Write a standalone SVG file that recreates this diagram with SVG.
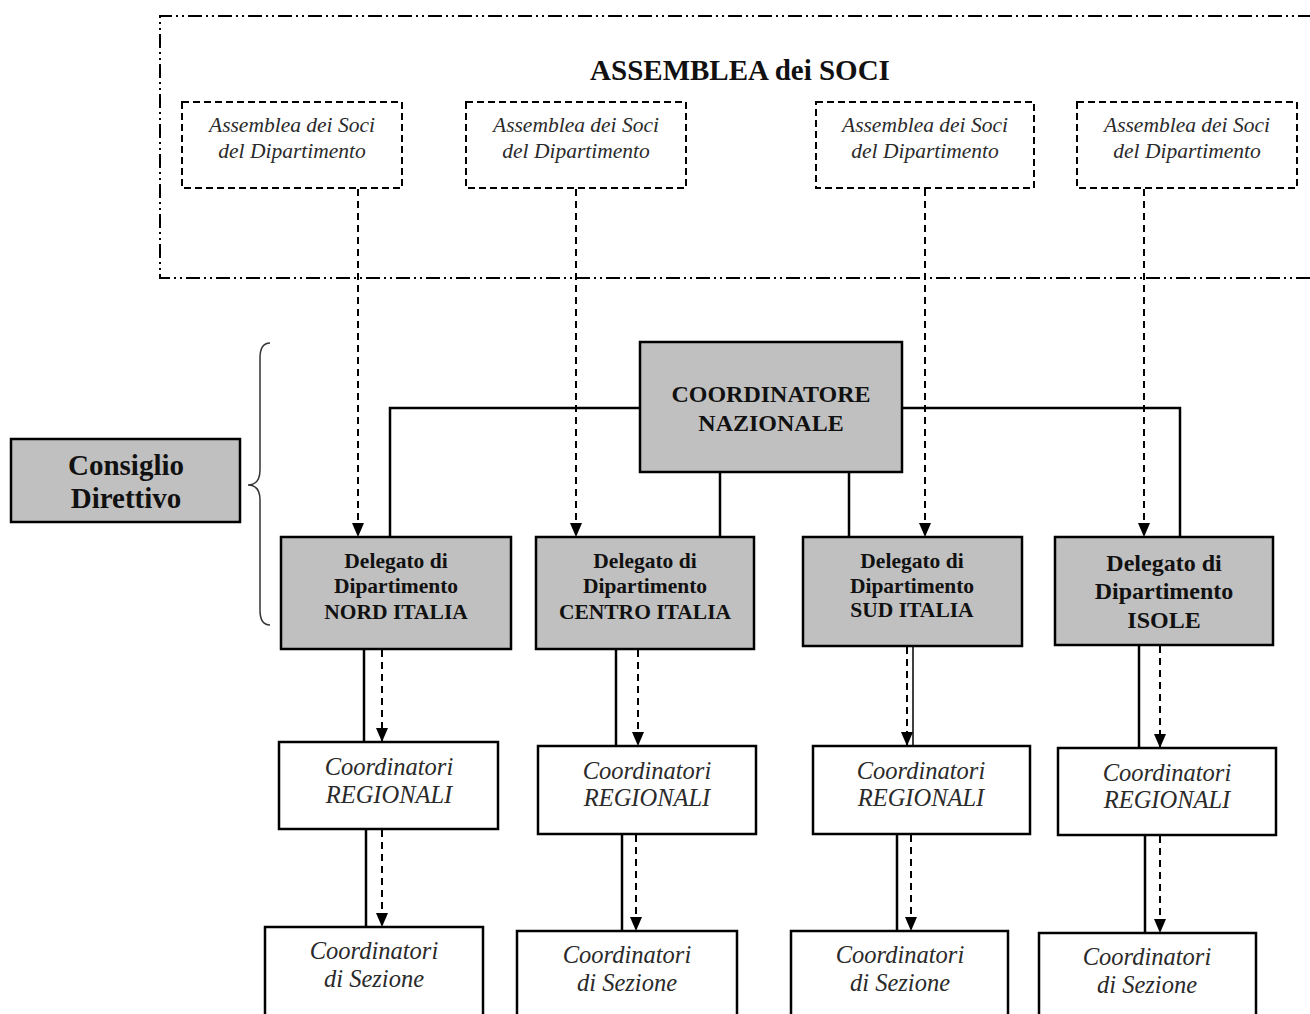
<svg xmlns="http://www.w3.org/2000/svg" width="1310" height="1014" viewBox="0 0 1310 1014">
<defs>
<marker id="ah" viewBox="0 0 14 12" refX="14" refY="6" markerWidth="14" markerHeight="12" markerUnits="userSpaceOnUse" orient="auto">
<path d="M0,0 L14,6 L0,12 Z" fill="#000"/>
</marker>
<style>
.outer{fill:none;stroke:#000;stroke-width:2;stroke-dasharray:14 4 2 4 2 4}
.dbox{fill:#fff;stroke:#000;stroke-width:2;stroke-dasharray:7 4}
.gbox{fill:#c0c0c0;stroke:#000;stroke-width:2.5}
.wbox{fill:#fff;stroke:#000;stroke-width:2.5}
.solid{fill:none;stroke:#000;stroke-width:2.5}
.dash{fill:none;stroke:#000;stroke-width:2;stroke-dasharray:7 5}
.it{font-family:"Liberation Serif","Times New Roman",serif;font-style:italic;text-anchor:middle;fill:#2a2a2a}
.bd{font-family:"Liberation Serif","Times New Roman",serif;font-weight:bold;text-anchor:middle;fill:#111}
</style>
</defs>
<rect width="1310" height="1014" fill="#fff"/>

<g id="assemblea">
<path class="outer" d="M1312,16 H160 V278 H1312"/>
<text class="bd" x="740" y="80" font-size="29">ASSEMBLEA dei SOCI</text>
</g>

<g id="ads1"><rect class="dbox" x="182" y="102" width="220" height="86"/>
<text class="it" x="292" y="132" font-size="21.5">Assemblea dei Soci</text><text class="it" x="292" y="158" font-size="21.5">del Dipartimento</text></g>
<g id="ads2"><rect class="dbox" x="466" y="102" width="220" height="86"/>
<text class="it" x="576" y="132" font-size="21.5">Assemblea dei Soci</text><text class="it" x="576" y="158" font-size="21.5">del Dipartimento</text></g>
<g id="ads3"><rect class="dbox" x="816" y="102" width="218" height="86"/>
<text class="it" x="925" y="132" font-size="21.5">Assemblea dei Soci</text><text class="it" x="925" y="158" font-size="21.5">del Dipartimento</text></g>
<g id="ads4"><rect class="dbox" x="1077" y="102" width="220" height="86"/>
<text class="it" x="1187" y="132" font-size="21.5">Assemblea dei Soci</text><text class="it" x="1187" y="158" font-size="21.5">del Dipartimento</text></g>

<g id="connectors">
<path class="dash" d="M358,189 V537" marker-end="url(#ah)"/>
<path class="dash" d="M576,189 V537" marker-end="url(#ah)"/>
<path class="dash" d="M925,189 V537" marker-end="url(#ah)"/>
<path class="dash" d="M1144,189 V537" marker-end="url(#ah)"/>
<path class="solid" d="M640,408 H390 V537"/>
<path class="solid" d="M902,408 H1180 V537"/>
<path class="solid" d="M720,472 V537"/>
<path class="solid" d="M849,472 V537"/>
<path class="solid" d="M364,649 V742"/>
<path class="dash" d="M382,650 V742" marker-end="url(#ah)"/>
<path class="solid" d="M366,829 V927"/>
<path class="dash" d="M382,830 V927" marker-end="url(#ah)"/>
<path class="solid" d="M616,649 V746"/>
<path class="dash" d="M638,650 V746" marker-end="url(#ah)"/>
<path class="solid" d="M622,834 V931"/>
<path class="dash" d="M636,835 V931" marker-end="url(#ah)"/>
<path class="solid" d="M913,646 V746" style="stroke-width:1.5"/>
<path class="dash" d="M907,647 V746" marker-end="url(#ah)"/>
<path class="solid" d="M897,834 V931"/>
<path class="dash" d="M911,835 V931" marker-end="url(#ah)"/>
<path class="solid" d="M1139,645 V748"/>
<path class="dash" d="M1160,646 V748" marker-end="url(#ah)"/>
<path class="solid" d="M1145,835 V933"/>
<path class="dash" d="M1160,836 V933" marker-end="url(#ah)"/>
<path fill="none" stroke="#333" stroke-width="1.5" d="M270,343 Q260,343 260,358 V470 Q260,485 248,485 Q260,485 260,500 V610 Q260,625 270,625"/>
</g>

<g id="coordinatore"><rect class="gbox" x="640" y="342" width="262" height="130"/>
<text class="bd" x="771" y="402" font-size="24">COORDINATORE</text><text class="bd" x="771" y="431" font-size="24">NAZIONALE</text></g>

<g id="consiglio"><rect class="gbox" x="11" y="439" width="229" height="83"/>
<text class="bd" x="126" y="475" font-size="29">Consiglio</text><text class="bd" x="126" y="508" font-size="29">Direttivo</text></g>

<g id="del-nord"><rect class="gbox" x="281" y="537" width="230" height="112"/>
<text class="bd" x="396" y="568" font-size="21.5">Delegato di</text><text class="bd" x="396" y="593" font-size="21.5">Dipartimento</text><text class="bd" x="396" y="619" font-size="21.5">NORD ITALIA</text></g>
<g id="del-centro"><rect class="gbox" x="536" y="537" width="218" height="112"/>
<text class="bd" x="645" y="568" font-size="21.5">Delegato di</text><text class="bd" x="645" y="593" font-size="21.5">Dipartimento</text><text class="bd" x="645" y="619" font-size="21.5">CENTRO ITALIA</text></g>
<g id="del-sud"><rect class="gbox" x="803" y="537" width="219" height="109"/>
<text class="bd" x="912" y="568" font-size="21.5">Delegato di</text><text class="bd" x="912" y="593" font-size="21.5">Dipartimento</text><text class="bd" x="912" y="617" font-size="21.5">SUD ITALIA</text></g>
<g id="del-isole"><rect class="gbox" x="1055" y="537" width="218" height="108"/>
<text class="bd" x="1164" y="571" font-size="24">Delegato di</text><text class="bd" x="1164" y="599" font-size="24">Dipartimento</text><text class="bd" x="1164" y="628" font-size="24">ISOLE</text></g>

<g id="reg1"><rect class="wbox" x="279" y="742" width="219" height="87"/>
<text class="it" x="389" y="775" font-size="24.5">Coordinatori</text><text class="it" x="389" y="803" font-size="24.5">REGIONALI</text></g>
<g id="reg2"><rect class="wbox" x="538" y="746" width="218" height="88"/>
<text class="it" x="647" y="779" font-size="24.5">Coordinatori</text><text class="it" x="647" y="806" font-size="24.5">REGIONALI</text></g>
<g id="reg3"><rect class="wbox" x="813" y="746" width="217" height="88"/>
<text class="it" x="921" y="779" font-size="24.5">Coordinatori</text><text class="it" x="921" y="806" font-size="24.5">REGIONALI</text></g>
<g id="reg4"><rect class="wbox" x="1058" y="748" width="218" height="87"/>
<text class="it" x="1167" y="781" font-size="24.5">Coordinatori</text><text class="it" x="1167" y="808" font-size="24.5">REGIONALI</text></g>

<g id="sez1"><rect class="wbox" x="265" y="927" width="218" height="100"/>
<text class="it" x="374" y="959" font-size="24.5">Coordinatori</text><text class="it" x="374" y="987" font-size="24.5">di Sezione</text></g>
<g id="sez2"><rect class="wbox" x="517" y="931" width="220" height="100"/>
<text class="it" x="627" y="963" font-size="24.5">Coordinatori</text><text class="it" x="627" y="991" font-size="24.5">di Sezione</text></g>
<g id="sez3"><rect class="wbox" x="791" y="931" width="217" height="100"/>
<text class="it" x="900" y="963" font-size="24.5">Coordinatori</text><text class="it" x="900" y="991" font-size="24.5">di Sezione</text></g>
<g id="sez4"><rect class="wbox" x="1039" y="933" width="217" height="100"/>
<text class="it" x="1147" y="965" font-size="24.5">Coordinatori</text><text class="it" x="1147" y="993" font-size="24.5">di Sezione</text></g>
</svg>
